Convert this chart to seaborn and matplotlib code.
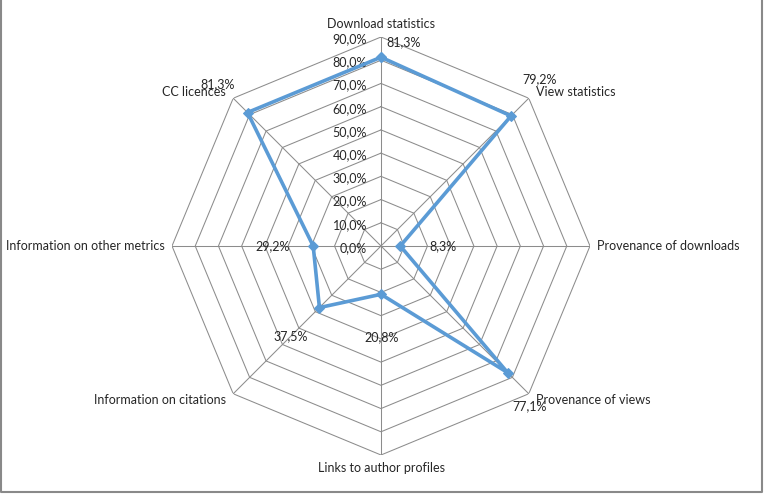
import numpy as np
import pandas as pd
import matplotlib
matplotlib.use("Agg")
import matplotlib.pyplot as plt
from matplotlib.lines import Line2D
import seaborn as sns

# -----------------------------
# Data (share of repositories offering each feature)
# -----------------------------
categories = ["Download statistics", "View statistics", "Provenance of downloads",
              "Provenance of views", "Links to author profiles", "Information on citations",
              "Information on other metrics", "CC licences"]
shares = [0.813, 0.792, 0.083, 0.771, 0.208, 0.375, 0.292, 0.813]
ring_values = [0.0, 0.1, 0.2, 0.3, 0.4, 0.5, 0.6, 0.7, 0.8, 0.9]

# label offsets in pixels (x, y) for the data labels, as placed in the original
label_offsets = [(23, 15), (29, 37), (43, 0), (22, -34), (1, -43), (-29, -29), (-41, 0), (-30, 28)]


def pct(v):
    return f"{v * 100:.1f}%".replace(".", ",")


sns.set_style("white")
plt.rcParams['font.family'] = ['Lato', 'DejaVu Sans']
plt.rcParams['font.size'] = 9

n = len(categories)
theta = np.arange(n) * 2 * np.pi / n
df = pd.DataFrame({"theta": np.append(theta, 2 * np.pi), "share": shares + shares[:1]})

fig = plt.figure(figsize=(7.64, 4.95), dpi=100)
# chart frame: left, bottom and right edges only
W, H = 764, 495
frame_x = [0.5 / W, 0.5 / W, 761.5 / W, 761.5 / W]
frame_y = [1.0, 3.0 / H, 3.0 / H, 1.0]
fig.add_artist(Line2D(frame_x, frame_y, transform=fig.transFigure, color="#898989", lw=1.5))

ax = fig.add_axes([(381 - 209) / W, (249 - 209) / H, 418 / W, 418 / H], projection="polar")
ax.set_theta_zero_location("N")
ax.set_theta_direction(-1)
ax.set_ylim(0, 0.9)
ax.grid(False)
ax.set_xticks([])
ax.set_yticks([])
ax.spines["polar"].set_visible(False)
ax.patch.set_alpha(0)

grid_c = "#8c8c8c"
ring_theta = np.append(theta, 2 * np.pi)
for r in ring_values[1:]:
    ax.plot(ring_theta, [r] * len(ring_theta), color=grid_c, lw=0.75, zorder=1)
for t in theta:
    ax.plot([t, t], [0, ring_values[-1]], color=grid_c, lw=0.75, zorder=1)

# ring value labels along the top spoke
for r in ring_values:
    ax.annotate(pct(r), xy=(0, r), xytext=(-14, -2), textcoords="offset pixels",
                ha="right", va="center", fontsize=9)

# category labels outside the outer ring
for t, name in zip(theta, categories):
    s = np.sign(np.round(np.sin(t), 3))
    c = np.sign(np.round(np.cos(t), 3))
    ha = {1: "left", -1: "right", 0: "center"}[int(s)]
    if s == 0:
        va = "bottom" if c > 0 else "top"
        off = (0, 7 * c)
    else:
        va = "center"
        off = (7 * s, 6.5 * c)
    ax.annotate(name, xy=(t, ring_values[-1]), xytext=off, textcoords="offset pixels",
                ha=ha, va=va, fontsize=9)

sns.lineplot(data=df, x="theta", y="share", sort=False, estimator=None, ax=ax,
             color="#5B9BD5", lw=2.6, marker="D", markersize=5.5,
             markeredgecolor="#5B9BD5", zorder=3)
ax.set_xlabel("")
ax.set_ylabel("")
ax.set_ylim(0, 0.9)

for t, v, off in zip(theta, shares, label_offsets):
    ax.annotate(pct(v), xy=(t, v), xytext=off, textcoords="offset pixels",
                ha="center", va="center", fontsize=9)

fig.savefig("out.png", dpi=100)
